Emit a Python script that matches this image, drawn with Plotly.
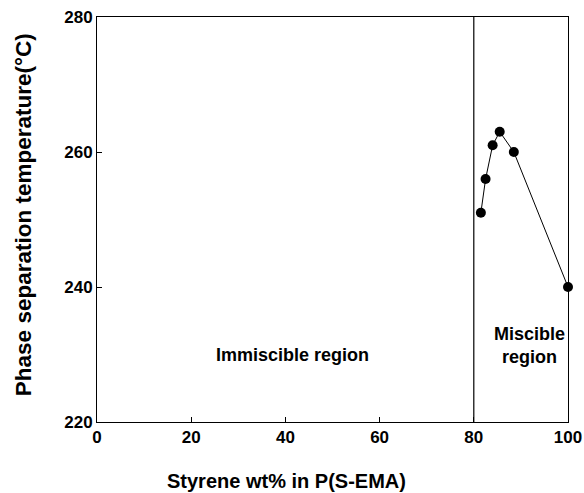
import plotly.graph_objects as go

# Styrene content (wt%) and phase separation temperature (°C)
styrene_wt = [81.5, 82.5, 84, 85.5, 88.5, 100]
phase_sep_temp = [251, 256, 261, 263, 260, 240]

x_ticks = [0, 20, 40, 60, 80, 100]
y_ticks = [220, 240, 260, 280]
boundary_wt = 80

FONT = "Liberation Sans, Arial, sans-serif"

fig = go.Figure()

# miscibility boundary
fig.add_trace(go.Scatter(
    x=[boundary_wt, boundary_wt], y=[220, 280], mode="lines",
    line=dict(color="black", width=1.2), hoverinfo="skip", showlegend=False,
))

fig.add_trace(go.Scatter(
    x=styrene_wt, y=phase_sep_temp, mode="lines+markers",
    line=dict(color="black", width=1),
    marker=dict(color="black", size=10),
    cliponaxis=False, showlegend=False,
))

fig.add_annotation(x=41.5, y=230, text="<b>Immiscible region</b>", showarrow=False,
                   font=dict(family=FONT, size=18, color="black"))
fig.add_annotation(x=91.8, y=231.4, text="<b>Miscible<br>region</b>", showarrow=False,
                   font=dict(family=FONT, size=18, color="black"), align="center")

# axis titles
fig.add_annotation(xref="paper", yref="paper", x=0.403, y=-0.145,
                   text="<b>Styrene wt% in P(S-EMA)</b>", showarrow=False,
                   xanchor="center", yanchor="middle",
                   font=dict(family=FONT, size=20, color="black"))
fig.add_annotation(xref="paper", yref="paper", x=-0.156, y=0.512,
                   text="<b>Phase separation temperature(°C)</b>", showarrow=False,
                   textangle=-90, xanchor="center", yanchor="middle",
                   font=dict(family=FONT, size=22.5, color="black"))

axis_common = dict(
    showline=True, mirror=True, linecolor="black", linewidth=1,
    ticks="inside", ticklen=5, tickwidth=1, tickcolor="black",
    showgrid=False, zeroline=False, automargin=False,
    tickfont=dict(family=FONT, size=17, color="black"),
)

fig.update_xaxes(range=[0, 100], tickvals=x_ticks, ticktext=[f"<b>{v}</b>" for v in x_ticks],
                 **axis_common)
fig.update_yaxes(range=[220, 280], tickvals=y_ticks, ticktext=[f"<b>{v}</b>" for v in y_ticks],
                 **axis_common)

fig.update_layout(
    width=584, height=493,
    margin=dict(l=97, r=16, t=17, b=71),
    paper_bgcolor="white", plot_bgcolor="white",
)

fig.write_html("out.html")
